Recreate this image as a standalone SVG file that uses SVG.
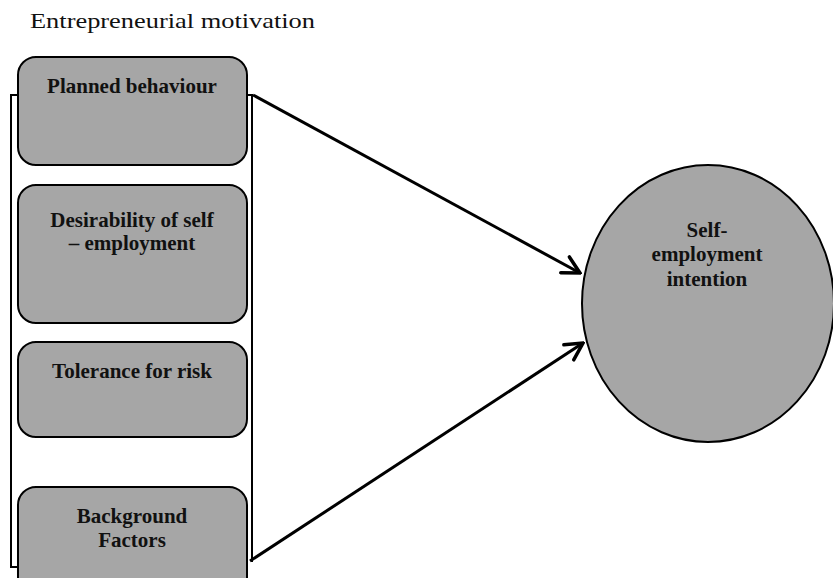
<svg xmlns="http://www.w3.org/2000/svg" width="833" height="578" viewBox="0 0 833 578">
<style>
.box{fill:#a6a6a6;stroke:#000;stroke-width:2}
.lbl{font-family:"Liberation Serif","Times New Roman",serif;font-weight:bold;font-size:21px;text-anchor:middle;fill:#111}
.title{font-family:"Liberation Serif","Times New Roman",serif;font-size:21px;fill:#111}
.br{fill:none;stroke:#000;stroke-width:2}
.conn{fill:none;stroke:#000;stroke-width:3}
</style>
<defs>
<marker id="ah" viewBox="0 0 22 22" refX="20" refY="11" markerWidth="22" markerHeight="22" markerUnits="userSpaceOnUse" orient="auto">
<path d="M3,2 L20,11 L3,20" fill="none" stroke="#000" stroke-width="3.5" stroke-linecap="round" stroke-linejoin="miter"/>
</marker>
</defs>
<rect width="833" height="578" fill="#fff"/>
<text class="title" x="30" y="28" textLength="285" lengthAdjust="spacingAndGlyphs">Entrepreneurial motivation</text>
<g id="bracket">
<path class="br" d="M18,95 H11 V567 H18"/>
<path class="br" d="M247,95 H252 V562"/>
</g>
<g id="connectors">
<path class="conn" d="M253,95 L580,273" marker-end="url(#ah)"/>
<path class="conn" d="M250,561 L583,343" marker-end="url(#ah)"/>
</g>
<g id="planned">
<rect class="box" x="18" y="57" width="229" height="108" rx="18"/>
<text class="lbl" x="132" y="93">Planned behaviour</text>
</g>
<g id="desirability">
<rect class="box" x="18" y="185" width="229" height="138" rx="18"/>
<text class="lbl" x="132" y="227">Desirability of self</text>
<text class="lbl" x="132" y="250">– employment</text>
</g>
<g id="tolerance">
<rect class="box" x="18" y="342" width="229" height="95" rx="18"/>
<text class="lbl" x="132" y="378">Tolerance for risk</text>
</g>
<g id="background">
<rect class="box" x="18" y="487" width="229" height="110" rx="18"/>
<text class="lbl" x="132" y="523">Background</text>
<text class="lbl" x="132" y="547">Factors</text>
</g>
<g id="intention">
<ellipse class="box" cx="708" cy="303.5" rx="126" ry="138.5"/>
<text class="lbl" x="707" y="237">Self-</text>
<text class="lbl" x="707" y="261">employment</text>
<text class="lbl" x="707" y="286">intention</text>
</g>
</svg>
